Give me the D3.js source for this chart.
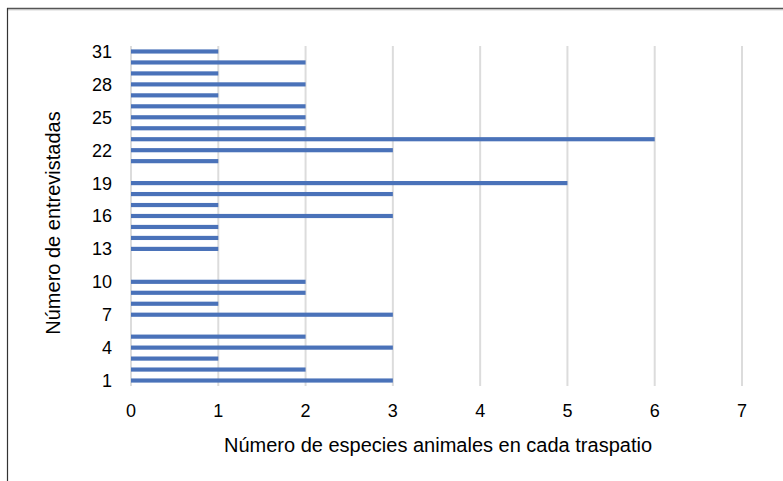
<!DOCTYPE html>
<html><head><meta charset="utf-8">
<script src="https://cdn.jsdelivr.net/npm/d3@7"></script>
<style>body{margin:0;background:#fff}svg{display:block}text{font-family:"Liberation Sans",Arial,sans-serif;fill:#000}</style>
</head><body><svg id="c" width="783" height="481"></svg>
<script>
const categories = d3.range(1, 32);
const values = [3,2,1,3,2,0,3,1,2,2,0,0,1,1,1,3,1,3,5,0,1,3,6,2,2,2,1,2,1,2,1];
const yTickLabels = [1,4,7,10,13,16,19,22,25,28,31];
const xTicks = [0,1,2,3,4,5,6,7];
const xTitle = "Número de especies animales en cada traspatio";
const yTitle = "Número de entrevistadas";

const svg = d3.select("#c");
// frame
svg.append("line").attr("x1",7).attr("x2",783).attr("y1",8.5).attr("y2",8.5).attr("stroke","#555").attr("stroke-width",1.5);
svg.append("line").attr("x1",7).attr("x2",783).attr("y1",9.8).attr("y2",9.8).attr("stroke","#bbb").attr("stroke-width",1);
svg.append("line").attr("x1",7.5).attr("x2",7.5).attr("y1",8).attr("y2",481).attr("stroke","#333").attr("stroke-width",1.2);

const x = d3.scaleLinear().domain([0,7]).range([131,742]);
const y = d3.scaleBand().domain(categories).range([386,46]).paddingInner(0.62).paddingOuter(0.31);

svg.append("g").selectAll("line").data(xTicks).join("line")
  .attr("x1",d=>x(d)).attr("x2",d=>x(d)).attr("y1",46).attr("y2",386)
  .attr("stroke","#dcdcdc").attr("stroke-width",2);

svg.append("g").selectAll("rect").data(categories.map((c,i)=>({c,v:values[i]})).filter(d=>d.v>0)).join("rect")
  .attr("x",x(0)).attr("y",d=>y(d.c)).attr("width",d=>x(d.v)-x(0)).attr("height",y.bandwidth())
  .attr("fill","#4a72b9");

svg.append("g").selectAll("text").data(yTickLabels).join("text")
  .attr("x",112).attr("y",d=>y(d)+y.bandwidth()/2).attr("dy","0.36em").attr("text-anchor","end")
  .style("font-size","18px").text(d=>d);

svg.append("g").selectAll("text").data(xTicks).join("text")
  .attr("x",d=>x(d)).attr("y",417).attr("text-anchor","middle")
  .style("font-size","18px").text(d=>d);

svg.append("text").attr("x",438).attr("y",452).attr("text-anchor","middle").style("font-size","20px").text(xTitle);
svg.append("text").attr("transform","translate(60,223) rotate(-90)").attr("text-anchor","middle").style("font-size","20px").text(yTitle);
</script></body></html>
